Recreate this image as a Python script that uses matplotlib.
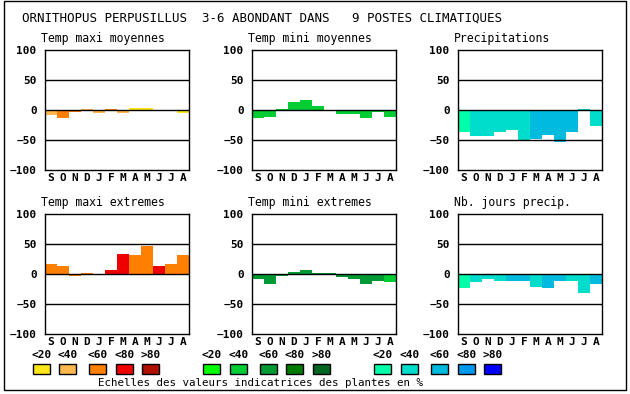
import matplotlib
matplotlib.use("Agg")
import matplotlib.pyplot as plt
from matplotlib.patches import Rectangle

MONTHS = ["S", "O", "N", "D", "J", "F", "M", "A", "M", "J", "J", "A"]

# classes: 0 <20, 1 <40, 2 <60, 3 <80, 4 >80
WARM = ["#ffe619", "#ffb84d", "#ff8000", "#ee0000", "#b01000"]
GREEN = ["#00ff00", "#00cc33", "#009933", "#007a00", "#006622"]
BLUE = ["#00ffaa", "#00ddcc", "#00bbdd", "#0099ee", "#0000ff"]
CLASS_LABELS = ["<20", "<40", "<60", "<80", ">80"]

tmax_moy = [-8, -13, -4, 2, -5, 2, -5, 4, 4, -2, -2, -5]
tmax_moy_cls = [1, 2, 2, 1, 1, 2, 1, 0, 0, 0, 0, 0]

tmin_moy = [-14, -12, 2, 14, 17, 7, 0, -7, -7, -14, -4, -12]
tmin_moy_cls = [1, 1, 1, 1, 1, 1, 1, 1, 1, 1, 1, 1]

precip = [-36, -44, -43, -36, -33, -52, -49, -41, -54, -37, 2, -27]
precip_cls = [0, 1, 1, 1, 1, 1, 2, 2, 2, 2, 1, 1]

tmax_ext = [17, 14, -4, 2, -2, 7, 34, 32, 46, 14, 16, 31]
tmax_ext_cls = [2, 2, 2, 2, 3, 3, 3, 2, 2, 3, 2, 2]

tmin_ext = [-8, -16, -4, 4, 7, 2, 2, -5, -8, -16, -11, -14]
tmin_ext_cls = [2, 2, 2, 2, 2, 2, 2, 2, 2, 2, 2, 1]

nb_jours = [-24, -14, -8, -12, -12, -11, -22, -24, -12, -11, -31, -16]
nb_jours_cls = [0, 1, 1, 1, 2, 2, 1, 2, 2, 1, 1, 2]

PANELS = [
    ("Temp maxi moyennes", tmax_moy, tmax_moy_cls, WARM),
    ("Temp mini moyennes", tmin_moy, tmin_moy_cls, GREEN),
    ("Precipitations", precip, precip_cls, BLUE),
    ("Temp maxi extremes", tmax_ext, tmax_ext_cls, WARM),
    ("Temp mini extremes", tmin_ext, tmin_ext_cls, GREEN),
    ("Nb. jours precip.", nb_jours, nb_jours_cls, BLUE),
]

W, H = 630, 394
FONT = "DejaVu Sans Mono"

fig = plt.figure(figsize=(W / 100, H / 100), dpi=100)
fig.patch.set_facecolor("white")

# outer frame
fig.add_artist(Rectangle((4 / W, 1 - 390 / H), 622 / W, 389 / H,
                         transform=fig.transFigure, fill=False,
                         edgecolor="black", linewidth=1))

fig.text(22 / W, 1 - 18 / H,
         "ORNITHOPUS PERPUSILLUS  3-6 ABONDANT DANS   9 POSTES CLIMATIQUES",
         family=FONT, fontsize=9, va="center", ha="left")

col_x = [45, 252, 458]
row_y = [50, 214]

for i, (title, vals, cls, pal) in enumerate(PANELS):
    x0 = col_x[i % 3]
    y0 = row_y[i // 3]
    ax = fig.add_axes([x0 / W, 1 - (y0 + 120) / H, 144 / W, 120 / H])
    x = list(range(len(MONTHS)))
    ax.bar(x, vals, width=1.0, color=[pal[c] for c in cls], linewidth=0,
           zorder=1)
    for yv in (-50, 0, 50):
        ax.axhline(yv, color="black", linewidth=1, zorder=2)
    ax.set_xlim(-0.5, 11.5)
    ax.set_ylim(-100, 100)
    ax.set_yticks([-100, -50, 0, 50, 100])
    ax.set_xticks(x)
    ax.set_xticklabels(MONTHS)
    ax.tick_params(length=0, pad=2, labelsize=8)
    for lab in ax.get_xticklabels() + ax.get_yticklabels():
        lab.set_family(FONT)
        lab.set_fontweight("bold")
    ax.tick_params(axis="y", pad=6)
    for sp in ax.spines.values():
        sp.set_linewidth(1)
    ax.text(-0.85, 108, title, family=FONT, fontsize=8.3, ha="left",
            va="bottom")

# legend
sw_x = [[33, 59, 89, 116, 142], [203, 230, 260, 286, 313],
        [374, 401, 431, 458, 484]]
for pal, xs in zip([WARM, GREEN, BLUE], sw_x):
    for c, lab, xx in zip(pal, CLASS_LABELS, xs):
        fig.add_artist(Rectangle((xx / W, 1 - 374 / H), 17 / W, 10 / H,
                                 transform=fig.transFigure, facecolor=c,
                                 edgecolor="black", linewidth=1))
        fig.text((xx + 8.5) / W, 1 - 355 / H, lab, family=FONT,
                 fontsize=8, fontweight="bold", ha="center", va="center")

fig.text(261 / W, 1 - 383 / H,
         "Echelles des valeurs indicatrices des plantes en %",
         family=FONT, fontsize=7.8, ha="center", va="center")

fig.savefig("out.png", dpi=100)
